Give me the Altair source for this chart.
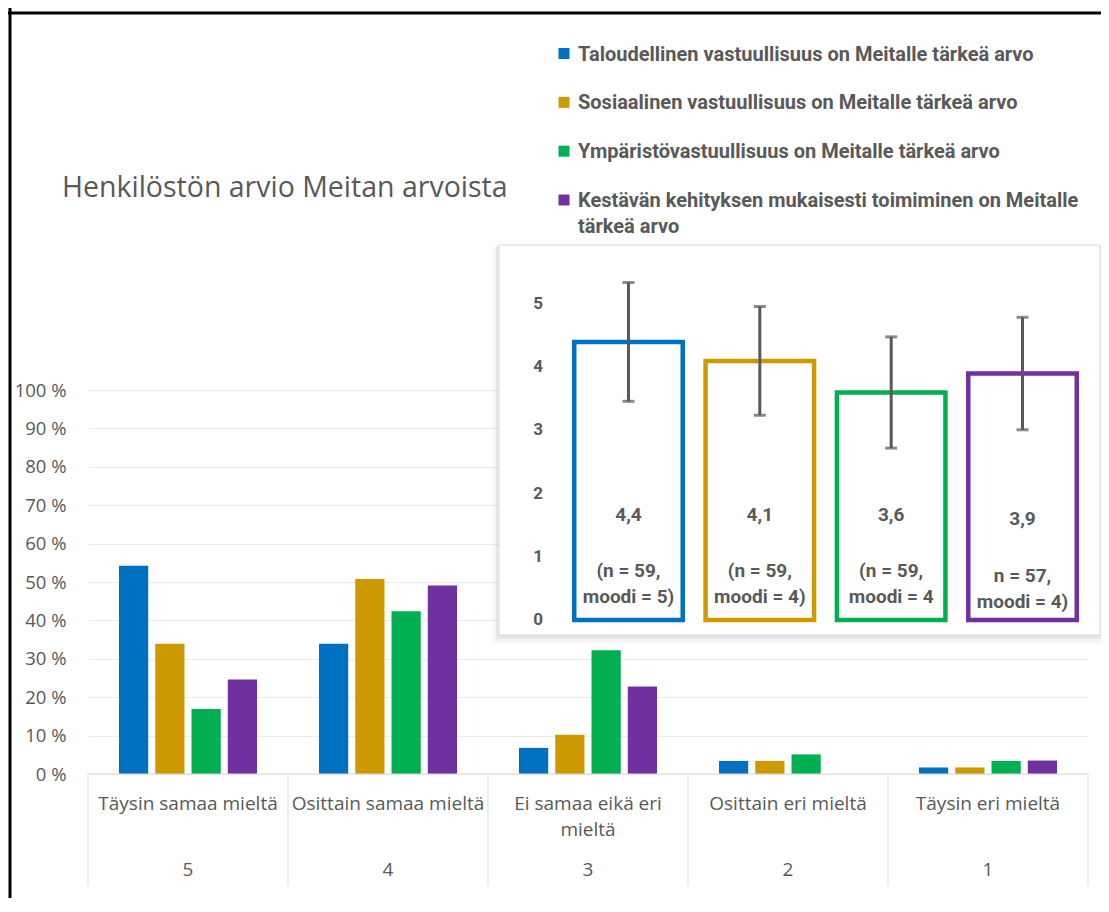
import altair as alt
import pandas as pd

# ---------------- data ----------------
categories = ["Täysin samaa mieltä", "Osittain samaa mieltä", "Ei samaa eikä eri mieltä",
              "Osittain eri mieltä", "Täysin eri mieltä"]
category_labels = ["Täysin samaa mieltä", "Osittain samaa mieltä", "Ei samaa eikä eri\nmieltä",
                   "Osittain eri mieltä", "Täysin eri mieltä"]
scale_numbers = ["5", "4", "3", "2", "1"]
series = ["Taloudellinen vastuullisuus on Meitalle tärkeä arvo",
          "Sosiaalinen vastuullisuus on Meitalle tärkeä arvo",
          "Ympäristövastuullisuus on Meitalle tärkeä arvo",
          "Kestävän kehityksen mukaisesti toimiminen on Meitalle tärkeä arvo"]
legend_labels = [series[0], series[1], series[2],
                 "Kestävän kehityksen mukaisesti toimiminen on Meitalle\ntärkeä arvo"]
colors = ["#0070C0", "#CC9900", "#00B050", "#7030A0"]

pct_taloudellinen = [54.2, 33.9, 6.8, 3.4, 1.7]
pct_sosiaalinen = [33.9, 50.8, 10.2, 3.4, 1.7]
pct_ymparisto = [16.9, 42.4, 32.2, 5.1, 3.4]
pct_kestava = [24.6, 49.1, 22.8, 0.0, 3.5]

means = [4.4, 4.1, 3.6, 3.9]
sds = [0.94, 0.86, 0.88, 0.89]
mean_labels = ["4,4", "4,1", "3,6", "3,9"]
n_labels = ["(n = 59,\nmoodi = 5)", "(n = 59,\nmoodi = 4)", "(n = 59,\nmoodi = 4", "n = 57,\nmoodi = 4)"]

y_ticks_pct = [0, 10, 20, 30, 40, 50, 60, 70, 80, 90, 100]
inset_ticks = [0, 1, 2, 3, 4, 5]
title_text = "Henkilöstön arvio Meitan arvoista"

GRAY = "#595959"
LINE = "#d9d9d9"
FONT = "Open Sans"
BOLD_FONT = "Roboto"

# ---------------- tables ----------------
rows = []
for s, vals in zip(series, [pct_taloudellinen, pct_sosiaalinen, pct_ymparisto, pct_kestava]):
    for c, v in zip(categories, vals):
        rows.append({"cat": c, "series": s, "pct": v})
bars_df = pd.DataFrame(rows)
cat_df = pd.DataFrame({"cat": categories, "lbl": category_labels, "num": scale_numbers,
                       "last": [False] * (len(categories) - 1) + [True]})
inset_df = pd.DataFrame({
    "series": series, "mean": means,
    "lo": [m - s for m, s in zip(means, sds)],
    "hi": [m + s for m, s in zip(means, sds)],
    "mean_lbl": mean_labels, "n_lbl": n_labels,
    "shifted": [False, False, False, True],
})
inset_tick_df = pd.DataFrame({"v": inset_ticks})
legend_df = pd.DataFrame({"series": series, "lbl": legend_labels})
one = pd.DataFrame({"k": [0]})
title_df = pd.DataFrame({"t": [title_text]})

color_scale = alt.Scale(domain=series, range=colors)

# ---------------- main chart ----------------
x_main_scale = alt.Scale(domain=categories, paddingInner=0, paddingOuter=0)


def xm(band=None):
    if band is None:
        return alt.X("cat:N", sort=categories, scale=x_main_scale, axis=None)
    return alt.X("cat:N", sort=categories, scale=x_main_scale, axis=None, bandPosition=band)


bars = alt.Chart(bars_df).mark_bar().encode(
    x=xm(),
    xOffset=alt.XOffset("series:N", sort=series,
                        scale=alt.Scale(domain=series, paddingInner=0.194, paddingOuter=0.855)),
    y=alt.Y("pct:Q", scale=alt.Scale(domain=[0, 100], nice=False),
            axis=alt.Axis(title=None, values=y_ticks_pct, labelExpr="datum.value + ' %'",
                          labelFont=FONT, labelFontSize=18.5, labelColor=GRAY, grid=True,
                          gridColor="#ececec", gridWidth=1, domain=False, ticks=False,
                          labelPadding=22)),
    color=alt.Color("series:N", scale=color_scale, legend=None),
)

domain_line = alt.Chart(cat_df).mark_rect(color=LINE).encode(
    x=xm(), y=alt.value(383.5), y2=alt.value(384.6))
separators = alt.Chart(cat_df).mark_rule(color=LINE, strokeWidth=1).encode(
    x=xm(0), y=alt.value(384), y2=alt.value(496))
separator_end = alt.Chart(cat_df).transform_filter("datum.last").mark_rule(
    color=LINE, strokeWidth=1).encode(x=xm(1), y=alt.value(384), y2=alt.value(496))

cat_text = alt.Chart(cat_df).mark_text(font=FONT, fontSize=19, color=GRAY, baseline="top",
                                       align="center", lineBreak="\n", lineHeight=26).encode(
    x=xm(), y=alt.value(404.5), text="lbl:N")
nums = alt.Chart(cat_df).mark_text(font=FONT, fontSize=19, color=GRAY, baseline="middle").encode(
    x=xm(), y=alt.value(480), text="num:N")

main = alt.layer(bars, domain_line, separators, separator_end, cat_text, nums)

# ---------------- inset ----------------
xi = alt.X("series:N", sort=series,
           scale=alt.Scale(domain=series, range=[474.8, 1000.2], paddingInner=0.174, paddingOuter=0.087),
           axis=None)
yi_scale = alt.Scale(domain=[0, 5], range=[230, -86], nice=False, zero=True)

shadow1 = alt.Chart(one).mark_rect(color="#000000", opacity=0.04).encode(
    x=alt.value(405), x2=alt.value(1013), y=alt.value(-143), y2=alt.value(253))
shadow2 = alt.Chart(one).mark_rect(color="#000000", opacity=0.06).encode(
    x=alt.value(408), x2=alt.value(1013), y=alt.value(-144), y2=alt.value(249))
inset_bg = alt.Chart(one).mark_rect(fill="white", stroke=LINE, strokeWidth=1).encode(
    x=alt.value(411), x2=alt.value(1012), y=alt.value(-145), y2=alt.value(245))

inset_bars = alt.Chart(inset_df).mark_bar(fill="white", strokeWidth=4.5).encode(
    x=xi,
    y=alt.Y("mean:Q", scale=yi_scale, axis=None),
    stroke=alt.Stroke("series:N", scale=color_scale, legend=None),
)
err = alt.Chart(inset_df).mark_rule(color=GRAY, strokeWidth=3).encode(
    x=xi, y=alt.Y("lo:Q", scale=yi_scale, axis=None), y2="hi:Q")
cap_lo = alt.Chart(inset_df).mark_tick(color=GRAY, size=12, thickness=3, orient="horizontal").encode(
    x=xi, y=alt.Y("lo:Q", scale=yi_scale, axis=None))
cap_hi = alt.Chart(inset_df).mark_tick(color=GRAY, size=12, thickness=3, orient="horizontal").encode(
    x=xi, y=alt.Y("hi:Q", scale=yi_scale, axis=None))

txt = dict(font=BOLD_FONT, fontWeight="bold", fontSize=19, color=GRAY, align="center",
           baseline="middle", lineBreak="\n", lineHeight=26)
mean_txt_a = alt.Chart(inset_df).transform_filter("!datum.shifted").mark_text(**txt).encode(
    x=xi, y=alt.value(125), text="mean_lbl:N")
mean_txt_b = alt.Chart(inset_df).transform_filter("datum.shifted").mark_text(**txt).encode(
    x=xi, y=alt.value(129), text="mean_lbl:N")
n_txt_a = alt.Chart(inset_df).transform_filter("!datum.shifted").mark_text(**txt).encode(
    x=xi, y=alt.value(181), text="n_lbl:N")
n_txt_b = alt.Chart(inset_df).transform_filter("datum.shifted").mark_text(**txt).encode(
    x=xi, y=alt.value(186), text="n_lbl:N")

inset_axis = alt.Chart(inset_tick_df).mark_text(
    font=BOLD_FONT, fontWeight="bold", fontSize=17, color=GRAY, align="center", baseline="middle"
).encode(x=alt.value(450), y=alt.Y("v:Q", scale=yi_scale, axis=None), text="v:Q")

inset = alt.layer(shadow1, shadow2, inset_bg, inset_bars, err, cap_lo, cap_hi,
                  mean_txt_a, mean_txt_b, n_txt_a, n_txt_b, inset_axis)

# ---------------- legend ----------------
ylg = alt.Y("series:N", sort=series,
            scale=alt.Scale(type="point", domain=series, range=[-336.5, -190], padding=0), axis=None)
lg_sq = alt.Chart(legend_df).mark_square(size=121, opacity=1).encode(
    x=alt.value(476), y=ylg, color=alt.Color("series:N", scale=color_scale, legend=None))
lg_txt = alt.Chart(legend_df).mark_text(
    font=BOLD_FONT, fontWeight="bold", fontSize=20, color=GRAY, align="left", baseline="top",
    dy=-9, lineBreak="\n", lineHeight=26
).encode(x=alt.value(490), y=ylg, text="lbl:N")
legend = alt.layer(lg_sq, lg_txt)

# ---------------- decorations ----------------
title = alt.Chart(title_df).mark_text(font=FONT, fontSize=28.5, color=GRAY, align="left",
                                      baseline="middle").encode(
    x=alt.value(-26), y=alt.value(-202), text="t:N")
frame_top = alt.Chart(one).mark_rule(color="black", strokeWidth=3).encode(
    x=alt.value(-80), x2=alt.value(1013), y=alt.value(-377))
frame_left = alt.Chart(one).mark_rule(color="black", strokeWidth=3).encode(
    x=alt.value(-78), y=alt.value(-382), y2=alt.value(508))

chart = alt.layer(main, inset, legend, title, frame_top, frame_left).resolve_scale(
    x="independent", y="independent"
).properties(
    width=1000, height=384,
    autosize=alt.AutoSizeParams(type="none"),
    padding={"left": 80, "top": 382, "right": 13, "bottom": 124},
    background="white",
).configure_view(stroke=None)

chart.save("out.html", embed_options={"renderer": "svg", "actions": False})
